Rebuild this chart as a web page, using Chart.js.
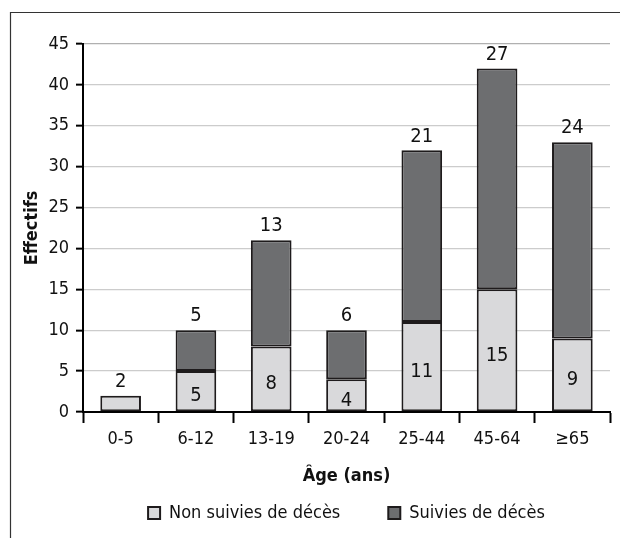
<!DOCTYPE html>
<html>
<head>
<meta charset="utf-8">
<script src="https://cdn.jsdelivr.net/npm/chart.js@4/dist/chart.umd.min.js"></script>
<style>
  html, body { margin: 0; padding: 0; background: #fff; }
  #wrap { width: 620px; height: 538px; position: relative; }
</style>
</head>
<body>
<div id="wrap"><canvas id="c"></canvas></div>
<script>
const categories = ['0-5', '6-12', '13-19', '20-24', '25-44', '45-64', '≥65'];
const nonSuivies = [2, 5, 8, 4, 11, 15, 9];
const suivies = [0, 5, 13, 6, 21, 27, 24];
const seriesNames = ['Non suivies de décès', 'Suivies de décès'];
const yMin = 0, yMax = 45, yStep = 5;
const xTitle = 'Âge (ans)';
const yTitle = 'Effectifs';

const FONT = "'Liberation Sans Narrow', 'DejaVu Sans Condensed', 'Liberation Sans', sans-serif";
const TXT = '#111';

const framePlugin = {
  id: 'frame',
  beforeDraw(chart) {
    const ctx = chart.ctx;
    ctx.save();
    ctx.strokeStyle = '#333';
    ctx.lineWidth = 1.2;
    ctx.beginPath();
    ctx.moveTo(10.5, 538);
    ctx.lineTo(10.5, 12.5);
    ctx.lineTo(620, 12.5);
    ctx.stroke();
    ctx.restore();
  }
};

const labelPlugin = {
  id: 'barLabels',
  afterDatasetsDraw(chart) {
    const ctx = chart.ctx;
    const m0 = chart.getDatasetMeta(0);
    const m1 = chart.getDatasetMeta(1);
    ctx.save();
    ctx.font = '20px ' + FONT;
    ctx.fillStyle = TXT;
    ctx.textAlign = 'center';
    ctx.textBaseline = 'middle';
    categories.forEach((c, i) => {
      const lb = m0.data[i], db = m1.data[i];
      const lv = nonSuivies[i], dv = suivies[i];
      if (dv > 0) {
        ctx.fillText(String(dv), db.x, db.y - 14);
        ctx.fillText(String(lv), lb.x, (lb.y + lb.base) / 2 + 5);
      } else {
        ctx.fillText(String(lv), lb.x, lb.y - 14);
      }
    });
    ctx.restore();
  }
};

new Chart(document.getElementById('c'), {
  type: 'bar',
  data: {
    labels: categories,
    datasets: [
      {
        label: seriesNames[0],
        data: nonSuivies,
        backgroundColor: '#d9d9db',
        borderColor: '#1e1b1c',
        borderWidth: 2,
        borderSkipped: false,
        categoryPercentage: 1,
        barPercentage: 0.54
      },
      {
        label: seriesNames[1],
        data: suivies,
        backgroundColor: '#6d6e70',
        borderColor: '#1e1b1c',
        borderWidth: 2,
        borderSkipped: false,
        categoryPercentage: 1,
        barPercentage: 0.54
      }
    ]
  },
  options: {
    responsive: true,
    maintainAspectRatio: false,
    animation: false,
    devicePixelRatio: 1,
    layout: { padding: { top: 44, right: 10, bottom: 6, left: 0 } },
    plugins: {
      tooltip: { enabled: false },
      legend: {
        position: 'bottom',
        fullSize: false,
        labels: {
          boxWidth: 12,
          boxHeight: 12,
          padding: 48,
          color: TXT,
          font: { family: FONT, size: 18 }
        }
      }
    },
    scales: {
      x: {
        stacked: true,
        offset: true,
        afterFit(scale) { scale.height = 44; },
        grid: {
          display: true,
          offset: true,
          drawOnChartArea: false,
          drawTicks: true,
          tickLength: 11,
          tickWidth: 2,
          tickColor: '#000',
          color: '#000'
        },
        border: { display: true, color: '#000', width: 2 },
        ticks: {
          color: TXT,
          padding: 6,
          font: { family: FONT, size: 18 },
          maxRotation: 0,
          autoSkip: false
        },
        title: {
          display: true,
          text: xTitle,
          color: TXT,
          font: { family: FONT, size: 18, weight: 'bold' },
          padding: { top: 0, bottom: -31 }
        }
      },
      y: {
        stacked: true,
        min: yMin,
        max: yMax,
        afterFit(scale) { scale.width = 83; },
        grid: {
          color: (c) => (c.tick && c.tick.value === yMax) ? '#b0b0b0' : '#cccccc',
          lineWidth: 1.3,
          tickLength: 7,
          tickWidth: 2,
          tickColor: '#000'
        },
        border: { display: true, color: '#000', width: 2 },
        ticks: {
          stepSize: yStep,
          color: TXT,
          padding: 7,
          font: { family: FONT, size: 18 }
        },
        title: {
          display: true,
          text: yTitle,
          color: TXT,
          font: { family: FONT, size: 18, weight: 'bold' },
          padding: { top: 22, bottom: 0 }
        }
      }
    }
  },
  plugins: [framePlugin, labelPlugin]
});
</script>
</body>
</html>
